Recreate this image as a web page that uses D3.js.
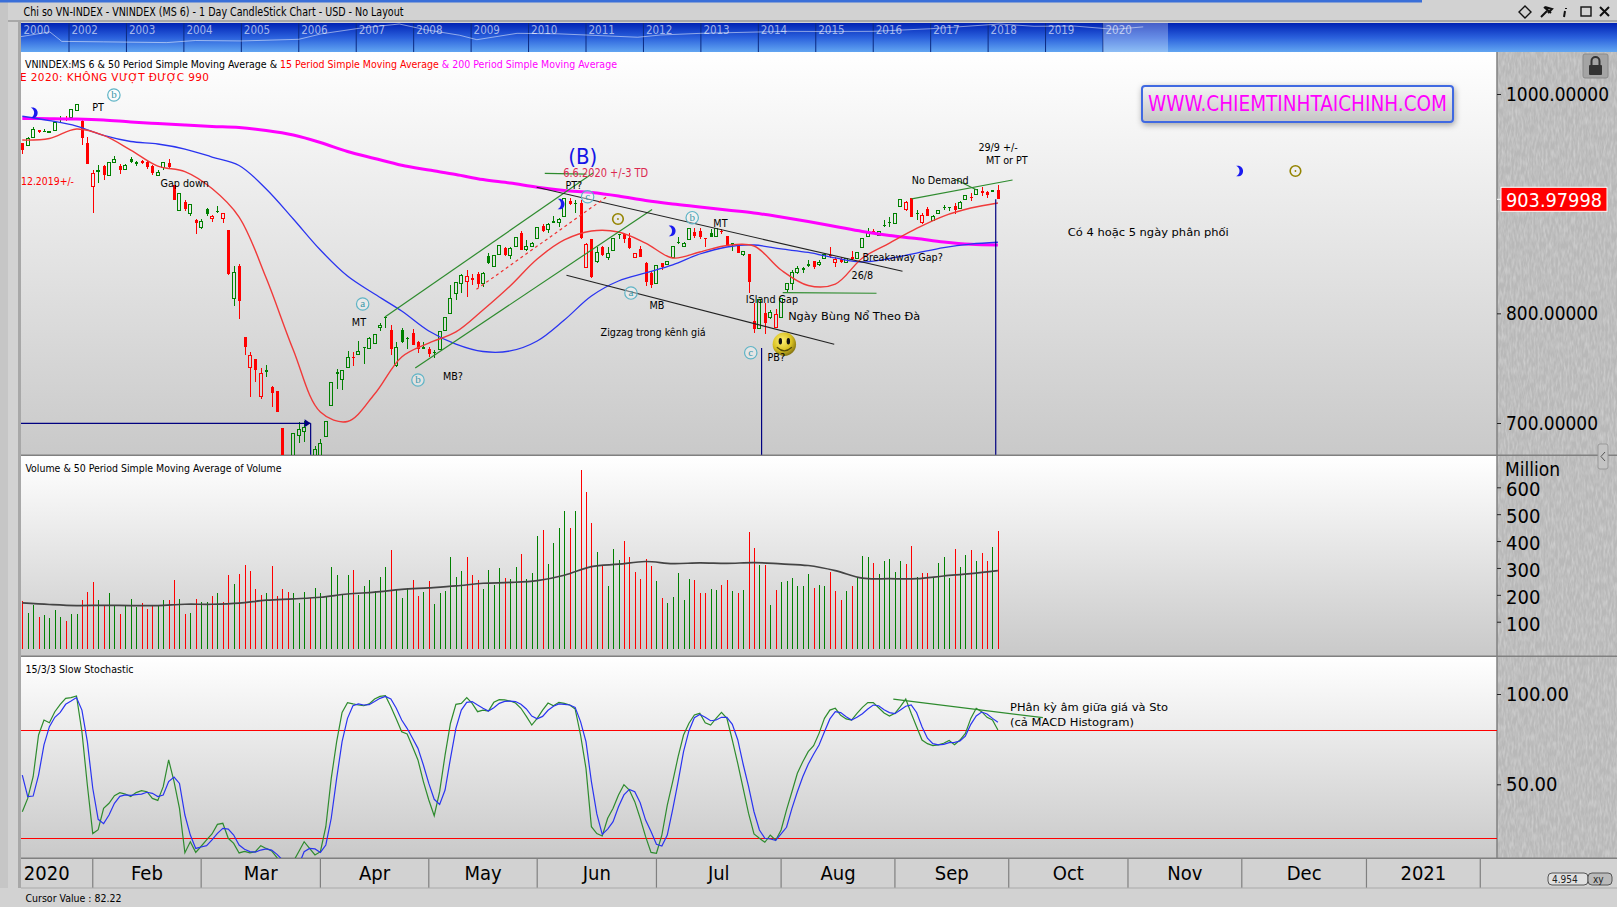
<!DOCTYPE html>
<html>
<head>
<meta charset="utf-8">
<title>VNINDEX</title>
<script src="https://cdn.jsdelivr.net/npm/d3@7"></script>
<style>
  html, body { margin: 0; padding: 0; background: #d2d2d2; overflow: hidden; }
  svg { display: block; font-family: "DejaVu Sans Condensed", "DejaVu Sans", sans-serif; }
  .axis .domain { display: none; }
  .axis line { stroke: #222; }
  .axis text { font-size: 20px; fill: #000; font-family: "DejaVu Sans Condensed", "DejaVu Sans", sans-serif; }
</style>
</head>
<body>
<svg id="chart" width="1617" height="907"></svg>
<script>
// daily bars
const opens = [955,952.9,960.5,967.2,966.7,965.2,966.5,977.2,978.1,978.4,
985.4,975.6,955,915.5,928.9,934.3,925.5,937.7,934.6,931.3,
941,937.7,938.9,937.7,934.6,925.5,933.4,937.4,917,893.6,
901.8,890.8,885.1,878.4,895.1,886.5,893.3,886.5,875.9,813.7,
843.2,778.4,750.4,758.1,724,748.3,732.6,728.9,695.5,657,
657.1,688.8,692.4,638.9,657.1,657.1,687.5,715.8,746.5,739.9,
750.8,759.9,762.6,769.3,768.1,772.3,787.3,796.7,784.8,752.3,
784.8,777.5,781.8,773.6,769.6,767.5,764.7,766.6,784.2,799.7,
818.3,827.4,828.8,832.2,836.1,826.8,852.3,842.5,854.1,859.9,
852.5,860.7,873.3,858,860.7,868.4,879.6,876,883.9,883,
888.1,902.7,900.9,900.3,842,867.5,847.7,860.7,850.5,857.1,
872.3,872.3,868.9,850.7,858.4,845.6,836.5,827.4,845.6,844.1,
851.1,865.3,860.7,867.5,874.4,875.1,868.4,873.5,870.5,875.1,
870.5,864.1,863.2,853.8,854.1,793.3,786.4,800,796,786.9,
796,821.9,827.4,837,841,844.7,847.7,844.1,850.2,853.6,
846.5,849.3,846.5,851.1,849.8,860.2,870.5,875.1,871.2,880.5,
883.3,881.5,897.2,894.9,904.9,891.5,882.6,894.9,885.1,891.2,
897.4,897.2,897.9,895.8,904,906.1,908.5,911.5,910.6,912.5,912.5];
const highs = [955.3,960.8,969.9,967.6,968.1,966.3,974.5,979.9,979.5,986.3,
990.9,976.3,960.5,930.7,935.3,935.3,937.5,943.5,935.9,936.2,
942.8,939.2,940.1,938.6,935.3,930.7,937.7,940.4,917,909.7,
903.3,899.7,886,886.4,896,889.7,898.1,890.6,875.9,843.2,
845,778.4,764.5,758.4,749.9,752.9,733.7,729.2,695.5,659,
690.9,701.2,702.1,657.1,679,685.4,701.8,737.4,749,748.3,
765.7,764.5,774.8,769.3,778.7,781.2,790.9,796.7,789.1,774.1,
786.4,778.1,785.4,775,774.1,769.6,766.6,783,796.7,825.8,
828.6,835.6,839.5,835.6,838,838,854.7,853.2,862.6,860.7,
860.7,869.6,874.8,866.9,865.3,878.7,881.5,882.1,888.7,886.7,
905.2,904.9,903.3,903.3,864.1,867.8,860.7,861.4,860.7,868.7,
872.3,873,873,855,861.7,847.1,838.9,844.1,846.2,848,
861.1,869.9,865.3,877.2,877.5,877.5,869,877.2,877.5,876.9,
870.8,864.4,863.2,856.2,854.1,809.1,813,809.7,803,803.7,
814,827,839.5,843.4,842.5,848.6,848,848.6,854.4,860.7,
851.6,851.1,850.5,856.8,855.5,868.7,877.5,876.9,874.8,885.1,
887.6,891.5,904.3,902.4,905.2,894.2,891.8,896.7,889.7,894.2,
898.8,897.4,900.9,902.7,907.9,909.4,912.7,914.9,911.5,912.9,917];
const lows = [945.3,952.6,960.3,964.4,965.3,964.4,966.3,974.5,975.4,978.1,
984.9,953.5,936.2,891.8,919.1,921.6,925.2,936.8,926.8,930.7,
936.8,934.6,936.2,931.3,926.1,925.2,930.7,932.2,903.3,893.3,
893.6,888.7,872.6,877.3,888.7,883.6,891.8,882.4,834.9,806.7,
795.1,762,724,737.7,721.9,742.2,714.9,710,652.6,630,
657.1,681.5,683,634.4,657.1,657.1,687.2,715.5,731,730.1,
749.9,752.3,762,754.1,767.8,772,784.2,786.9,762,751.4,
772.7,767.2,771.1,764.1,767.5,760.5,759.3,766.3,783.9,799.4,
812.2,818.5,815.2,825.8,824.3,823.7,844.7,842.3,853.8,852.3,
849.3,860.5,857.7,857.1,860.2,868,874.4,873.5,882.6,879,
887.8,898.8,891.2,868,841.3,832.5,845.6,852.6,848.6,856.8,
868,864.4,858.4,850.5,851.1,825.2,822.8,826.7,839.5,843.8,
850.7,863.2,860.2,867.1,868.4,867.5,860.7,869.6,869.9,872.3,
861.4,857.1,855,852.3,818.3,781.8,786,781.2,795.1,786.4,
795.7,819.7,821.3,835.9,836.5,842.5,840.4,843.4,850,850.2,
842,845.6,846.2,848.6,849.5,859.8,869.9,872.8,870.8,878.7,
879,881.2,897,893.6,887.8,885.1,881.5,888.7,884.5,890.8,
894.2,893.6,890.6,895.4,903.8,902.7,908.4,907.3,905.4,910.6,904.2];
const closes = [948.9,959.6,967.8,965.3,965.8,965.5,974.2,978.1,977.2,986,
990.6,960.1,936.4,927.7,929.8,925.9,937.4,940.7,930.7,934.6,
938.3,936.4,937.4,933.7,928.2,928.6,937.4,933.4,903.3,909.4,
894.9,898.8,882.6,883.9,890.3,888.7,892.4,890.6,835.6,837.4,
811.2,769.6,762,748.3,745.3,746.8,727.1,710.3,652.6,634.4,
690.6,694.3,696.1,655.3,675.4,680.9,701.6,737.1,744.9,748,
759.9,759,765,768.1,777.2,780.9,789.1,795.5,767.5,769,
774.1,776.6,771.1,767.5,767.8,762.9,763.4,783,796.4,813.7,
828.3,834.9,834,830.7,826.5,836.5,845.6,852.9,862.3,853.2,
858.7,869.3,857.7,861.1,863.9,878.4,875.1,881.2,882.6,885.7,
904.9,899.7,899.7,868.4,862.9,832.9,855.6,853.2,854.7,868.4,
871.2,868,859.3,854.7,851.6,828.8,825.8,843.2,842,847.7,
860.7,863.9,863.9,876.9,870.5,869.9,867.8,869.9,876.9,874.2,
861.7,862.3,855.3,856.2,828.8,785.7,812.2,790.9,800.6,798.5,
813.7,827,837.4,841,839.5,843.6,842.5,846.8,854.1,852.7,
849.3,847.1,850.2,849.3,855.3,868.4,873.9,873.2,874.4,879.6,
882.4,891.2,904,901.2,888.1,890.6,889.6,889,888.7,894.2,
896.3,896,894.2,900.9,907.9,905.4,912.5,909.4,907.9,910.6,903.98];
// g = closed above the day before, r = below
const dayDirs = ("rggrggggrg" + "grrrgrggrg" + "ggrrrggrrg" + "rgrggrgrrg" + "rrrrrgrrrr" + "gggrgggggg" +
  "grggggggrg" + "ggrrgrgggg" + "ggrrrggggr" + "ggrgggrggg" + "grgrrrgrgg" + "grrrrrrgrg" +
  "ggggrrrggr" + "rgrgrrgrgr" + "ggggggrggr" + "rrgrgggrgg" + "gggrrgrrgg" + "ggrggrgrrgr").split("");

const volumes = [177,134,164,119,126,112,145,119,104,130,130,182,212,246,179,164,205,164,130,160,
186,153,171,149,164,160,182,179,257,186,130,134,186,175,175,197,208,175,272,242,
279,312,290,223,201,205,309,197,223,212,208,171,212,190,227,205,193,305,275,201,
272,294,201,231,257,216,268,305,368,223,190,227,257,197,212,253,167,208,216,339,
268,290,339,275,257,223,294,238,301,
264,260,305,353,260,283,417,443,316,394,450,510,450,513,666,584,469,361,312,234,
372,331,402,339,286,260,335,309,253,190,171,193,283,182,260,257,205,208,223,219,
238,257,216,208,219,435,376,312,312,164,219,246,253,264,234,231,279,227,238,234,
286,216,182,216,231,264,346,342,320,279,327,335,286,324,316,383,268,283,283,264,
320,342,264,372,305,350,368,324,357,327,379,439];

// moving averages, read every maStep bars
const maStep = 5;
const ma200 = [977.6,977.5,977.2,976.3,974.5,973.1,971.7,970.4,969.4,966.7,962.6,955.8,947.6,941.2,935,930.7,926.6,922,918.8,914.9,912,910.2,907,902.9,899.7,897,894.2,891.5,887.8,883.7,879.2,874.6,871,868.2,865,862.9,862.3];
const ma50 = [979.7,975.8,970.8,962.2,956.7,954.4,949.8,942.5,934.8,913.4,886,857.7,834,817.6,802.1,783.9,772,765.2,765.7,774.8,793.9,815.8,829.5,836.8,844.1,854.1,860.5,862.3,858.7,855.5,850.5,846.8,850,855,860,863.2,864.8];
const ma15 = [958,959.4,968.1,962.2,948.9,934.3,929.3,913.8,887.8,832.2,766.6,710,701.4,726.4,760.2,772.9,783,803,824.9,849.5,866.9,875.1,874.2,864.1,850.5,855.9,861.9,861.4,839.5,825.4,826.7,850.5,864.1,877.4,888.7,896,900.6];
const volMa50 = [170,164,160,161,160,160,165,165,169,180,185,191,203,210,220,226,233,243,246,253,273,305,314,324,316,319,317,320,315,309,290,262,260,260,270,279,290];

const stochK = [34.8,42.2,54.2,77.3,85.6,84.1,90.2,94.3,97.6,98,98.9,79.1,49.6,22.7,24.9,36.7,39.5,43.7,45.4,44.6,
43.2,45.4,46.5,45.9,42.2,41.1,48.7,63.5,51.5,36.7,12.1,18.2,12.3,15.7,19.2,22.5,27.8,28.4,20.1,17.3,
12,12.9,12,12.7,16,14.5,13.1,9.4,3.5,1.6,7.2,12.7,18.2,14.5,10.9,12.7,26.5,53.3,73.6,89.8,
95.2,94.5,93.9,93.5,94.5,97.2,98.7,99.1,93,86.2,79.1,77.9,70.8,63.5,51.5,41.3,32.6,45.9,66.2,83.8,
94.3,94.8,98,94.8,90.2,91.1,90.6,95.4,96.9,
96.7,96.1,95,92.1,87.6,82.8,86.5,91.1,95,93.5,95.4,94.8,93.9,91.7,77.3,58.8,26.5,22.7,21.4,31.2,
36.7,44.1,49.8,46.8,40.4,31.2,21,12.3,11.8,21.9,38.5,51.5,65.3,77.3,83.8,88.4,89.3,84.1,82.8,86.5,
89.8,86.5,74.5,61.6,47.8,33.9,22.5,20.1,17.9,21.9,19,24.7,35.8,45.9,56.1,62.5,68.1,71.4,78.2,86.5,
91.1,92.1,88.2,86.2,85.6,89.3,92.6,95.2,95.2,92.4,89.5,87.8,89.3,93,97.2,89.3,81.9,74.5,72.5,71.4,
71.8,72.7,74.3,71.9,74.5,78.2,86.5,92.1,90.2,87.1,85.6,80.1];
const stochD = [55.1,43.2,43.5,55.1,71.8,81.9,87.1,89.8,94.3,96.1,98,91.1,73.6,47.8,30.6,28.2,33,39.5,43.3,44.1,
43.9,44.3,44.6,45.6,45,43.2,44.1,51.5,54,50.5,33,21.9,14.5,15.3,16,19.2,22.8,25.6,25.2,21.9,
16.4,14,12.7,12.5,13.6,14.2,13.6,11.2,8.1,4.4,3.5,5.3,12.7,14.5,14.2,12.3,16.4,31.2,53.3,73.6,
86.5,93.5,94.5,93.9,94.1,95.8,97.6,98.7,97.2,92.1,85.6,81,75.5,69.9,60.7,50.5,41.7,38.9,46.8,64.4,
81,91.1,95.4,95.8,93.9,92.1,90.6,92.4,94.8,
95.9,96.1,95.8,94.3,91.7,87.8,86.3,87.6,91,93.2,94.5,94.3,93.9,92.6,84.7,73.6,51.5,33.6,22.3,25.2,
29.3,37.6,44.1,47.2,45.9,39.8,30.2,23.8,16.8,15.8,21.9,36.1,51.5,68.1,79.7,86.9,88.7,87.1,85.2,85.6,
87.1,87.1,83.2,74.7,61.1,48.7,34.8,24.7,20.1,19.7,19,22.5,26.2,36.7,45.9,54.2,61.1,66.6,71.8,79.1,
86.2,90.2,89.7,87.4,85.6,87.1,89.1,91.7,93.9,93.5,91.3,89.7,89.1,91.1,93.2,93.9,89.8,81.9,75.5,72.5,
71.8,72.1,73.1,73.2,74,76.7,83.2,87.8,90,88.9,86.5,84.3];

const priceTicks = [1000, 800, 700];
const lastPrice = 903.97998;
const volumeTicks = [100, 200, 300, 400, 500, 600];
const stochTicks = [100, 50];
const stochLevels = [80, 20];

const monthLabels = ["2020", "Feb", "Mar", "Apr", "May", "Jun", "Jul", "Aug", "Sep", "Oct", "Nov", "Dec", "2021"];
const monthStartBars = [0, 13, 33, 55, 75, 95, 117, 140, 161, 182, 204, 225, 248, 269];

const overviewYearLabels = [2000, 2002, 2003, 2004, 2005, 2006, 2007, 2008, 2009, 2010, 2011, 2012, 2013, 2014, 2015, 2016, 2017, 2018, 2019, 2020];
const overviewYears = [2000, 2001.2, 2001.7, 2002.6, 2003.7, 2004.2, 2005, 2006, 2006.4, 2007.05, 2007.75, 2008.2, 2008.8, 2009.1, 2009.8, 2010.5, 2011.9, 2012.3, 2013, 2014.5, 2015.2, 2016, 2017, 2018.2, 2018.8, 2019.5, 2020.2, 2020.7];
const overviewValues = [370, 570, 240, 230, 215, 260, 250, 290, 480, 790, 1170, 700, 420, 280, 500, 480, 350, 430, 500, 600, 590, 600, 760, 1170, 950, 970, 720, 900];

// annotations sit on bar number and price
const priceNotes = [
  [12.9, 988.1, "PT"], [25.5, 918.8, "Gap down"], [60.8, 792.1, "MT"], [77.6, 742.9, "MB?"],
  [100.2, 917, "PT?"], [115.7, 807.6, "MB"], [106.7, 782.7, "Zigzag trong kênh giá"], [127.5, 882.1, "MT"],
  [155, 851.1, "Breakaway Gap?"], [153, 834.9, "26/8"], [133.5, 813.1, "ISland Gap"], [137.5, 759.9, "PB?"],
  [164.1, 921.6, "No Demand"], [176.4, 951.4, "29/9 +/-"], [177.8, 939.8, "MT or PT"]
];
const waveMarks = [[16.9, 999.1, "b"], [62.8, 808.5, "a"], [73, 739.2, "b"], [104.3, 906.3, "c"], [112.3, 818.5, "a"], [123.6, 887.2, "b"], [134.4, 764.1, "c"]];
const moonMarks = [[2.3, 982.9], [99.5, 899.7], [120, 875.1], [224.7, 929.8]];
const sunMarks = [[109.9, 886], [234.9, 929.8]];
const greenTrends = [
  [66.9, 796.7, 105.3, 927.9], [72.5, 750.2, 116.2, 894.7], [96.4, 927.7, 104.1, 927],
  [140.3, 818.8, 157.6, 818.3], [164.1, 904.3, 182.7, 921.6], [172.1, 922.2, 176.1, 912.5]
];
const blackTrends = [[94.9, 914.9, 162.4, 838.3], [100.4, 834.7, 149.8, 771.8]];
const dottedTrends = [[83.8, 821.9, 108.1, 907.3]];
const navyLines = [[136.4, 768.4, 136.4, 671], [179.6, 904, 179.6, 671], [-0.3, 699.7, 53.2, 699.7], [53.2, 699.7, 53.2, 671]];
const stochTrend = [160.7, 97.2, 188.3, 86.9];

const plotL = 21, plotR = 1497;
const mainT = 52, mainB = 455, volT = 456, volB = 656, stoT = 657, stoB = 858;
const GREEN = "#008000", RED = "#ff0000";
const FONT_WIDE = '"DejaVu Sans", sans-serif';

const x = d3.scaleLinear().domain([0, 180]).range([22.3, 997.9]);
const yPrice = d3.scaleLinear().domain([700, 1000]).range([423, 94]);
const yVol = d3.scaleLinear().domain([0, 600]).range([648.6, 487.3]);
const yStoch = d3.scaleLinear().domain([0, 100]).range([874.6, 694]);
const xOverview = d3.scaleLinear().domain([2000, 2002, 2020]).range([21, 69, 1103]);
const yOverview = d3.scaleLog().domain([100, 1170]).range([51, 24]);

const svg = d3.select("#chart");
const defs = svg.append("defs");

function vGrad(id, stops) {
  const g = defs.append("linearGradient").attr("id", id).attr("x1", 0).attr("y1", 0).attr("x2", 0).attr("y2", 1);
  stops.forEach(function (s) { g.append("stop").attr("offset", s[0]).attr("stop-color", s[1]); });
}
vGrad("panelGrad", [[0, "#ffffff"], [1, "#c9c9c9"]]);
vGrad("bandGrad", [[0, "#0022b4"], [0.5, "#2a60dc"], [1, "#62a6f2"]]);
vGrad("boxGrad", [[0, "#f4f4f4"], [1, "#c4c4c4"]]);

const smile = defs.append("radialGradient").attr("id", "smileGrad").attr("cx", "40%").attr("cy", "35%").attr("r", "70%");
smile.append("stop").attr("offset", 0).attr("stop-color", "#fff176");
smile.append("stop").attr("offset", 0.6).attr("stop-color", "#d8c020");
smile.append("stop").attr("offset", 1).attr("stop-color", "#7a6a10");

const brushed = defs.append("filter").attr("id", "brushed").attr("x", 0).attr("y", 0).attr("width", 1).attr("height", 1);
brushed.append("feTurbulence").attr("type", "fractalNoise").attr("baseFrequency", "0.5 0.12").attr("numOctaves", 2).attr("seed", 4).attr("result", "n");
brushed.append("feColorMatrix").attr("in", "n").attr("type", "matrix")
  .attr("values", "0 0 0 0 1  0 0 0 0 1  0 0 0 0 1  0.5 0 0 0 -0.18").attr("result", "c");
brushed.append("feMerge").selectAll("feMergeNode").data(["SourceGraphic", "c"]).enter().append("feMergeNode").attr("in", function (d) { return d; });

const shadow = defs.append("filter").attr("id", "boxShadow").attr("x", "-5%").attr("y", "-30%").attr("width", "110%").attr("height", "160%");
shadow.append("feDropShadow").attr("dx", 1).attr("dy", 2).attr("stdDeviation", 3).attr("flood-color", "#000").attr("flood-opacity", 0.35);

[["clipMain", mainT, mainB], ["clipVol", volT, volB], ["clipSto", stoT, stoB]].forEach(function (c) {
  defs.append("clipPath").attr("id", c[0]).append("rect")
    .attr("x", plotL).attr("y", c[1]).attr("width", plotR - plotL).attr("height", c[2] - c[1]);
});

function label(sel, px, py, text, size, color, width) {
  const t = sel.append("text").attr("x", px).attr("y", py).attr("dy", "0.36em")
    .attr("font-size", size).attr("fill", color || "#000").text(text);
  if (width) t.attr("textLength", width).attr("lengthAdjust", "spacingAndGlyphs");
  return t;
}

// window chrome
svg.append("rect").attr("width", 1617).attr("height", 907).attr("fill", "#d2d2d2");
svg.append("rect").attr("x", 0).attr("y", 0).attr("width", 8).attr("height", 907).attr("fill", "#c6c6c6");
svg.append("rect").attr("x", 18).attr("y", 22).attr("width", 3).attr("height", 866).attr("fill", "#a8a8a8");
svg.append("rect").attr("x", 0).attr("y", 0).attr("width", 1422).attr("height", 2.5).attr("fill", "#3a6fd8");
svg.append("rect").attr("x", 8).attr("y", 20).attr("width", 1609).attr("height", 2).attr("fill", "#a8a8a8");
label(svg, 23.5, 12, "Chi so VN-INDEX - VNINDEX (MS 6) - 1 Day CandleStick Chart - USD - No Layout", 12, "#000", 380);

// title bar icons
const icons = svg.append("g").attr("fill", "none").attr("stroke", "#111").attr("stroke-width", 1.4);
icons.append("path").attr("d", "M1525,6 L1531,12 L1525,18 L1519,12 Z");
icons.append("path").attr("d", "M1541,17 L1547,11 M1544,7 L1551,13 M1545,7 L1552,9 L1548,13").attr("stroke-width", 2);
icons.append("path").attr("d", "M1566,8 L1566,9 M1565,11 L1564,17").attr("stroke-width", 2);
icons.append("rect").attr("x", 1581).attr("y", 7).attr("width", 10).attr("height", 9);
icons.append("path").attr("d", "M1600,7 L1609,16 M1609,7 L1600,16").attr("stroke-width", 2);

// year overview band
svg.append("rect").attr("x", plotL).attr("y", 23).attr("width", 1617 - plotL).attr("height", 29).attr("fill", "url(#bandGrad)");
const band = svg.append("g");
band.selectAll("line").data(overviewYearLabels.slice(1)).enter().append("line")
  .attr("x1", function (d) { return xOverview(d); }).attr("x2", function (d) { return xOverview(d); })
  .attr("y1", 23).attr("y2", 52).attr("stroke", "#0c2a80").attr("stroke-width", 1);
band.append("path").attr("fill", "none").attr("stroke", "rgba(255,255,255,0.5)").attr("stroke-width", 1)
  .attr("d", d3.line().x(function (d) { return xOverview(d[0]); }).y(function (d) { return yOverview(d[1]); })(d3.zip(overviewYears, overviewValues)));
band.selectAll("text").data(overviewYearLabels).enter().append("text")
  .attr("x", function (d) { return xOverview(d) + 2.5; }).attr("y", 30).attr("dy", "0.36em")
  .attr("font-size", 11.5).attr("fill", "rgba(255,255,255,0.62)").text(function (d) { return d; });
band.append("rect").attr("x", 1103).attr("y", 23).attr("width", 65).attr("height", 29).attr("fill", "rgba(255,255,255,0.28)");

// panels
[[mainT, mainB], [volT, volB], [stoT, stoB]].forEach(function (p) {
  svg.append("rect").attr("x", plotL).attr("y", p[0]).attr("width", plotR - plotL).attr("height", p[1] - p[0]).attr("fill", "url(#panelGrad)");
});
svg.append("rect").attr("x", plotR).attr("y", mainT).attr("width", 1617 - plotR).attr("height", stoB - mainT).attr("fill", "#b8b8b8").attr("filter", "url(#brushed)");
svg.append("line").attr("x1", plotR).attr("x2", plotR).attr("y1", mainT).attr("y2", stoB).attr("stroke", "#808080").attr("stroke-width", 1.5);
[mainB, volB, stoB].forEach(function (py) {
  svg.append("rect").attr("x", plotL).attr("y", py - 0.5).attr("width", 1617 - plotL).attr("height", 1.5).attr("fill", "#808080");
});

// price panel
const mainG = svg.append("g").attr("clip-path", "url(#clipMain)");
const bars = d3.range(closes.length);
function barX(i) { return Math.round(x(i)) + 0.5; }
function dirColor(i) { return dayDirs[i] === "g" ? GREEN : RED; }

const candle = mainG.append("g").attr("shape-rendering", "crispEdges").selectAll("g").data(bars).enter().append("g");
candle.append("line").attr("x1", barX).attr("x2", barX)
  .attr("y1", function (i) { return yPrice(highs[i]); })
  .attr("y2", function (i) { return yPrice(Math.max(opens[i], closes[i])); })
  .attr("stroke", dirColor);
candle.append("line").attr("x1", barX).attr("x2", barX)
  .attr("y1", function (i) { return yPrice(Math.min(opens[i], closes[i])); })
  .attr("y2", function (i) { return yPrice(lows[i]); })
  .attr("stroke", dirColor);
candle.append("rect")
  .attr("x", function (i) { return closes[i] < opens[i] ? barX(i) - 1.5 : barX(i) - 2; })
  .attr("width", 3)
  .attr("y", function (i) { return yPrice(Math.max(opens[i], closes[i])); })
  .attr("height", function (i) { return Math.max(1, Math.abs(yPrice(opens[i]) - yPrice(closes[i]))); })
  .attr("fill", function (i) { return closes[i] < opens[i] ? dirColor(i) : "none"; })
  .attr("stroke", function (i) { return closes[i] < opens[i] ? "none" : dirColor(i); });

function maLine(scale) {
  return d3.line().x(function (d, i) { return x(i * maStep); }).y(function (d) { return scale(d); }).curve(d3.curveCatmullRom.alpha(0.5));
}
mainG.append("path").attr("fill", "none").attr("stroke", "#ff00ff").attr("stroke-width", 3).attr("d", maLine(yPrice)(ma200));
mainG.append("path").attr("fill", "none").attr("stroke", "#2a34f0").attr("stroke-width", 1.3).attr("d", maLine(yPrice)(ma50));
mainG.append("path").attr("fill", "none").attr("stroke", "#f03a3a").attr("stroke-width", 1.4).attr("d", maLine(yPrice)(ma15));

function trendLines(data, color, width, dash) {
  mainG.append("g").selectAll("line").data(data).enter().append("line")
    .attr("x1", function (d) { return x(d[0]); }).attr("y1", function (d) { return yPrice(d[1]); })
    .attr("x2", function (d) { return x(d[2]); }).attr("y2", function (d) { return yPrice(d[3]); })
    .attr("stroke", color).attr("stroke-width", width).attr("stroke-dasharray", dash || null);
}
trendLines(greenTrends, "#2e8b2e", 1.2);
trendLines(blackTrends, "#222", 1.1);
trendLines(dottedTrends, "#f03030", 1.2, "3,3");
trendLines(navyLines, "#000080", 1.2);

mainG.append("path").attr("fill", "#000080")
  .attr("transform", "translate(" + x(53.2) + "," + yPrice(699.7) + ")")
  .attr("d", "M-6,-4 L0,0 L-6,4 Z");

// wave marks, moons, suns
const wave = mainG.append("g").selectAll("g").data(waveMarks).enter().append("g")
  .attr("transform", function (d) { return "translate(" + x(d[0]) + "," + yPrice(d[1]) + ")"; });
wave.append("circle").attr("r", 6.2).attr("fill", "rgba(255,255,255,0.35)").attr("stroke", "#5fb4c6").attr("stroke-width", 1.2);
wave.append("text").attr("text-anchor", "middle").attr("dy", "0.3em").attr("font-size", 11)
  .attr("font-family", '"Liberation Serif", serif').attr("fill", "#3a98aa").text(function (d) { return d[2]; });

mainG.append("g").selectAll("path").data(moonMarks).enter().append("path")
  .attr("transform", function (d) { return "translate(" + x(d[0]) + "," + yPrice(d[1]) + ")"; })
  .attr("fill", "#1a1af0").attr("d", "M-4,-5.2 C5,-7 5.5,7 -4,5.2 C0.5,3 0.5,-3 -4,-5.2 Z");

const sun = mainG.append("g").selectAll("g").data(sunMarks).enter().append("g")
  .attr("transform", function (d) { return "translate(" + x(d[0]) + "," + yPrice(d[1]) + ")"; });
sun.append("circle").attr("r", 5.3).attr("fill", "none").attr("stroke", "#948400").attr("stroke-width", 1.6);
sun.append("circle").attr("r", 0.9).attr("fill", "#948400");

// smiley
const face = mainG.append("g").attr("transform", "translate(" + x(140.6) + "," + yPrice(771.8) + ")");
face.append("circle").attr("r", 11.7).attr("fill", "url(#smileGrad)");
face.append("ellipse").attr("cx", -4).attr("cy", -3).attr("rx", 1.7).attr("ry", 3.2).attr("fill", "#111");
face.append("ellipse").attr("cx", 4).attr("cy", -3).attr("rx", 1.7).attr("ry", 3.2).attr("fill", "#111");
face.append("path").attr("d", "M-7.5,3 Q0,10 7.5,3").attr("fill", "none").attr("stroke", "#554c08").attr("stroke-width", 1.2);

// notes
const notes = mainG.append("g");
priceNotes.forEach(function (n) { label(notes, x(n[0]), yPrice(n[1]), n[2], 10.7, "#000"); });
label(notes, x(103.4), yPrice(943.5), "(B)", 22, "#1414e6").attr("text-anchor", "middle");
label(notes, x(99.8), yPrice(928.2), "6.6.2020 +/-3 TD", 11.5, "#dc2850", 85);
label(notes, x(141.3), yPrice(797.6), "Ngày Bùng Nổ Theo Đà", 11, "#000", 132).attr("font-family", FONT_WIDE);
label(notes, x(192.9), yPrice(874.2), "Có 4 hoặc 5 ngày phân phối", 11, "#000", 161).attr("font-family", FONT_WIDE);
label(notes, 21, yPrice(920.7), "12.2019+/-", 11, "#ff0000", 53);

// panel legends
const legend = label(svg, 25, 64, "", 11, "#000", 592);
legend.append("tspan").attr("fill", "#000").text("VNINDEX:MS 6 & 50 Period Simple Moving Average & ");
legend.append("tspan").attr("fill", "#ff0000").text("15 Period Simple Moving Average");
legend.append("tspan").attr("fill", "#ff00ff").text(" & 200 Period Simple Moving Average");
mainG.append("g").call(function (g) {
  label(g, 20, 77.5, "E 2020: KHÔNG VƯỢT ĐƯỢC 990", 10.5, "#ff0000", 189)
    .attr("font-family", FONT_WIDE).attr("lengthAdjust", "spacing");
});

// watermark
svg.append("rect").attr("x", 1142).attr("y", 86).attr("width", 311).attr("height", 36).attr("rx", 3)
  .attr("fill", "url(#boxGrad)").attr("stroke", "#4169e1").attr("stroke-width", 2).attr("filter", "url(#boxShadow)");
label(svg, 1148, 103.5, "WWW.CHIEMTINHTAICHINH.COM", 21, "#ff00ff", 299);

// price axis
const axisPrice = svg.append("g").attr("class", "axis").attr("transform", "translate(" + plotR + ",0)")
  .call(d3.axisRight(yPrice).tickValues(priceTicks).tickFormat(d3.format(".5f")).tickSize(4).tickPadding(5));
axisPrice.selectAll("text").attr("textLength", function (d) { return d === 1000 ? 103 : 92; }).attr("lengthAdjust", "spacingAndGlyphs");

svg.append("line").attr("x1", plotR).attr("x2", 1503).attr("y1", yPrice(lastPrice)).attr("y2", yPrice(lastPrice)).attr("stroke", "#fff");
svg.append("rect").attr("x", 1501).attr("y", yPrice(lastPrice) - 12).attr("width", 106).attr("height", 24)
  .attr("fill", "#ff0000").attr("stroke", "#fff").attr("stroke-width", 1);
label(svg, 1506, yPrice(lastPrice), d3.format(".5f")(lastPrice), 20, "#fff", 96);

// lock and grip
const lock = svg.append("g");
lock.append("rect").attr("x", 1583).attr("y", 54).attr("width", 25).attr("height", 24).attr("rx", 2).attr("fill", "#a4a4a4").attr("stroke", "#8a8a8a");
lock.append("rect").attr("x", 1589).attr("y", 65).attr("width", 13).attr("height", 10).attr("rx", 1).attr("fill", "#333");
lock.append("path").attr("d", "M1591.5,65 V61 a4,4 0 0 1 8,0 V65").attr("fill", "none").attr("stroke", "#333").attr("stroke-width", 2);
svg.append("rect").attr("x", 1598).attr("y", 444).attr("width", 10).attr("height", 25).attr("rx", 2).attr("fill", "#c4c4c4").attr("stroke", "#999");
svg.append("path").attr("d", "M1605,452 L1601,456.5 L1605,461").attr("fill", "none").attr("stroke", "#555");

// volume panel
const volG = svg.append("g").attr("clip-path", "url(#clipVol)");
volG.append("g").attr("shape-rendering", "crispEdges").selectAll("line").data(volumes).enter().append("line")
  .attr("x1", function (d, i) { return barX(i); }).attr("x2", function (d, i) { return barX(i); })
  .attr("y1", function (d) { return yVol(d); }).attr("y2", yVol(0))
  .attr("stroke", function (d, i) { return dirColor(i); });
volG.append("path").attr("fill", "none").attr("stroke", "#444").attr("stroke-width", 1.7).attr("d", maLine(yVol)(volMa50));
label(svg, 25.5, 468, "Volume & 50 Period Simple Moving Average of Volume", 11, "#000", 256);
const axisVol = svg.append("g").attr("class", "axis").attr("transform", "translate(" + plotR + ",0)")
  .call(d3.axisRight(yVol).tickValues(volumeTicks).tickFormat(d3.format("d")).tickSize(4).tickPadding(5));
axisVol.selectAll("text").attr("dy", "0.42em");
label(svg, 1505, 469, "Million", 19, "#000");

// stochastic panel
const stoG = svg.append("g").attr("clip-path", "url(#clipSto)");
stoG.selectAll("line.level").data(stochLevels).enter().append("line").attr("class", "level")
  .attr("x1", plotL).attr("x2", plotR).attr("y1", yStoch).attr("y2", yStoch)
  .attr("stroke", "#ff0000").attr("stroke-width", 1).attr("shape-rendering", "crispEdges");
const stoLine = d3.line().x(function (d, i) { return x(i); }).y(function (d) { return yStoch(d); });
stoG.append("path").attr("fill", "none").attr("stroke", "#2e8b2e").attr("stroke-width", 1.2).attr("d", stoLine(stochK));
stoG.append("path").attr("fill", "none").attr("stroke", "#2a34f0").attr("stroke-width", 1.2).attr("d", stoLine(stochD));
stoG.append("line").attr("x1", x(stochTrend[0])).attr("y1", yStoch(stochTrend[1])).attr("x2", x(stochTrend[2])).attr("y2", yStoch(stochTrend[3]))
  .attr("stroke", "#2e8b2e").attr("stroke-width", 1.2);
label(svg, 25.5, 669, "15/3/3 Slow Stochastic", 11, "#000", 108);
label(svg, 1010, 707.5, "PHân kỳ âm giữa giá và Sto", 11, "#000", 158).attr("font-family", FONT_WIDE);
label(svg, 1010, 722, "(cả MACD Histogram)", 11, "#000", 124).attr("font-family", FONT_WIDE);
svg.append("g").attr("class", "axis").attr("transform", "translate(" + plotR + ",0)")
  .call(d3.axisRight(yStoch).tickValues(stochTicks).tickFormat(d3.format(".2f")).tickSize(4).tickPadding(5));

// month strip
const xMonth = svg.append("g");
xMonth.selectAll("line").data(monthStartBars.slice(1)).enter().append("line")
  .attr("x1", function (d) { return x(d); }).attr("x2", function (d) { return x(d); })
  .attr("y1", stoB).attr("y2", 888).attr("stroke", "#808080").attr("stroke-width", 1.2);
xMonth.selectAll("text").data(monthLabels).enter().append("text")
  .attr("x", function (d, i) { return i === 0 ? x(4.5) : (x(monthStartBars[i]) + x(monthStartBars[i + 1])) / 2; })
  .attr("y", 872.5).attr("dy", "0.36em").attr("text-anchor", "middle").attr("font-size", 20).attr("fill", "#000")
  .text(function (d) { return d; });

svg.append("rect").attr("x", 0).attr("y", 888).attr("width", 1617).attr("height", 19).attr("fill", "#d2d2d2");
svg.append("line").attr("x1", plotL).attr("x2", 1617).attr("y1", 888).attr("y2", 888).attr("stroke", "#aaa");
label(svg, 25.5, 898, "Cursor Value : 82.22", 11, "#000", 96);

// zoom pill
const pill = svg.append("g");
pill.append("rect").attr("x", 1548).attr("y", 873).attr("width", 40).attr("height", 12).attr("rx", 4).attr("fill", "#e0e0e0").attr("stroke", "#555");
label(pill, 1552, 879, "4.954", 10, "#222");
pill.append("rect").attr("x", 1588).attr("y", 873).attr("width", 24).attr("height", 12).attr("rx", 4).attr("fill", "#bbb").attr("stroke", "#555");
label(pill, 1593, 879, "xy", 10, "#222");
</script>
</body>
</html>
